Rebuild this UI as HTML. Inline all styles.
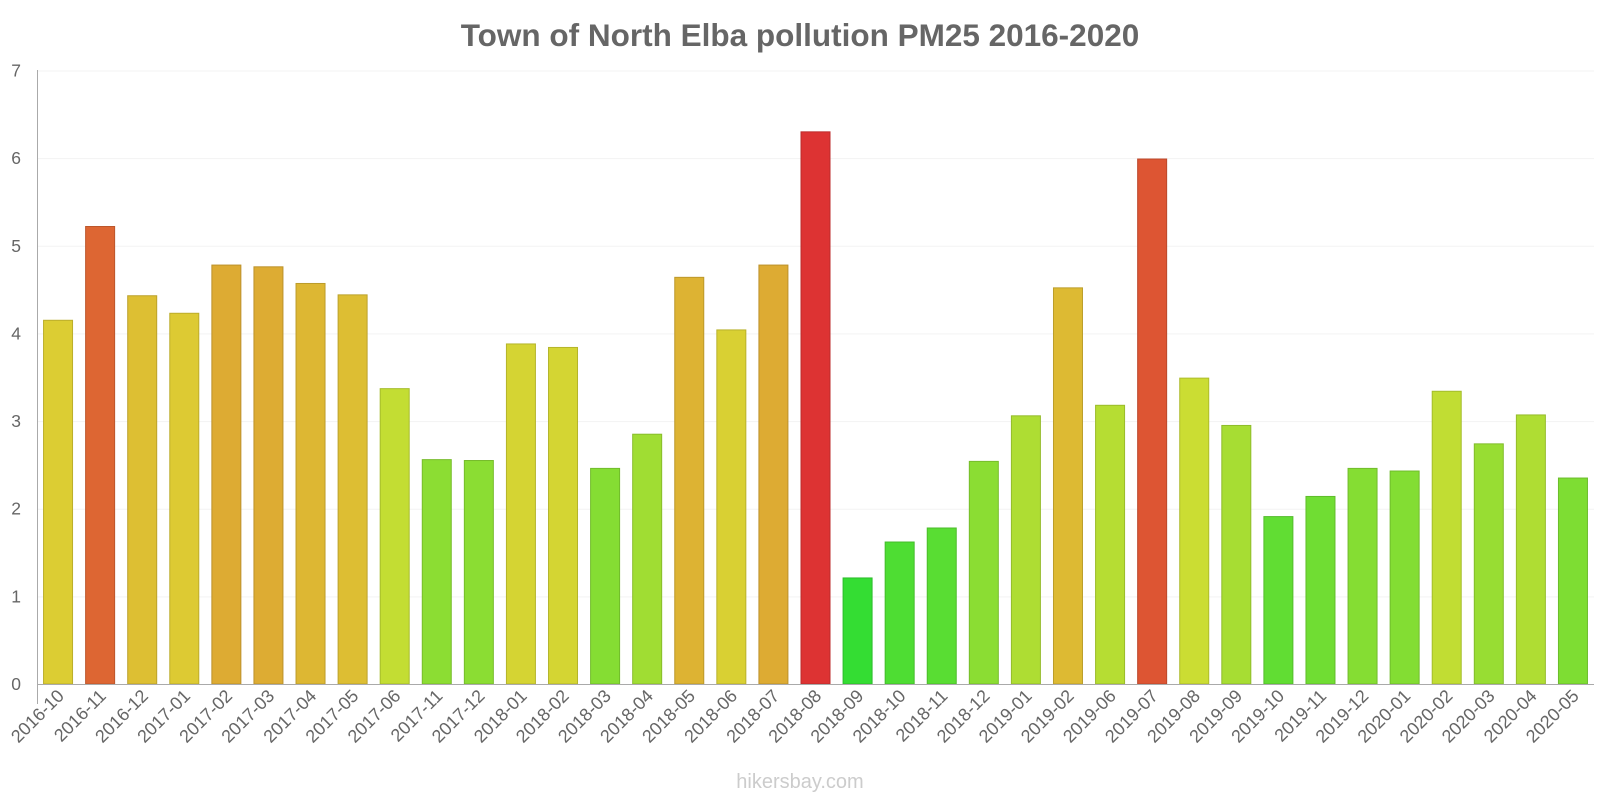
<!DOCTYPE html>
<html><head><meta charset="utf-8"><style>
body{margin:0;background:#fff;font-family:"Liberation Sans",sans-serif}
svg{display:block}
</style></head><body>
<svg id="chart" width="1600" height="800">
<text x="800" y="46" text-anchor="middle" font-size="31.5" font-weight="bold" fill="#666">Town of North Elba pollution PM25 2016-2020</text>
<text x="800" y="788" text-anchor="middle" font-size="20" fill="#ccc">hikersbay.com</text>
<g id="grid"></g><g id="bars"></g><g id="xlabels"></g><g id="ylabels"></g>
<line x1="37.5" y1="70" x2="37.5" y2="704" stroke="#aaa" stroke-width="1"/>
<line x1="37" y1="684.5" x2="1594" y2="684.5" stroke="#aaa" stroke-width="1"/>
</svg>
<script>
const categories=["2016-10","2016-11","2016-12","2017-01","2017-02","2017-03","2017-04","2017-05","2017-06","2017-11","2017-12","2018-01","2018-02","2018-03","2018-04","2018-05","2018-06","2018-07","2018-08","2018-09","2018-10","2018-11","2018-12","2019-01","2019-02","2019-06","2019-07","2019-08","2019-09","2019-10","2019-11","2019-12","2020-01","2020-02","2020-03","2020-04","2020-05"];
const values=[4.15,5.22,4.43,4.23,4.78,4.76,4.57,4.44,3.37,2.56,2.55,3.88,3.84,2.46,2.85,4.64,4.04,4.78,6.30,1.21,1.62,1.78,2.54,3.06,4.52,3.18,5.99,3.49,2.95,1.91,2.14,2.46,2.43,3.34,2.74,3.07,2.35];
const yTicks=[0,1,2,3,4,5,6,7];
const NS="http://www.w3.org/2000/svg";
const x0=37,x1=1594,yBase=684,yTop=70.5,yMax=7;
const band=(x1-x0)/categories.length;
const yScale=v=>yBase-(v/yMax)*(yBase-yTop);
const xCenter=i=>x0+band*(i+0.5);
const stops=[[1.2,[51,221,51]],[2.5,[136,221,51]],[3.5,[204,221,51]],[4.2,[221,204,51]],[4.8,[221,170,51]],[5.2,[221,102,51]],[6.0,[221,85,51]],[6.3,[221,51,51]]];
function color(v,d){let c=stops[0][1];
 for(let k=0;k<stops.length-1;k++){const a=stops[k],b=stops[k+1];
  if(v>=a[0]&&v<=b[0]){const t=(v-a[0])/(b[0]-a[0]);c=a[1].map((q,j)=>q+(b[1][j]-q)*t);break;}
  if(v>b[0])c=b[1];}
 return `rgb(${c.map(q=>Math.round(q*d)).join(',')})`;}
function el(t,a,p){const e=document.createElementNS(NS,t);for(const k in a)e.setAttribute(k,a[k]);document.getElementById(p).appendChild(e);return e;}
yTicks.forEach(t=>{
 const g=el('line',{x1:x0,x2:x1,y1:yScale(t)+0.5,y2:yScale(t)+0.5,stroke:'#f3f3f3'},'grid');
 
 
 const l=el('text',{x:21,y:yScale(t)+6,'text-anchor':'end','font-size':17.5,fill:'#666'},'ylabels');
 l.textContent=t;
 
 
});
values.forEach((v,i)=>{
 const w=29,cx=xCenter(i);
 const r=el('rect',{x:cx-w/2,y:yScale(v),width:w,height:yBase-yScale(v),fill:color(v,1),stroke:color(v,0.85),'stroke-width':1},'bars');
 
 
 const t=el('text',{x:cx+7,y:697,'text-anchor':'end','font-size':18,fill:'#666',transform:`rotate(-45 ${cx+7} 697)`},'xlabels');
 t.textContent=categories[i];
 
 
});
</script>
</body></html>
